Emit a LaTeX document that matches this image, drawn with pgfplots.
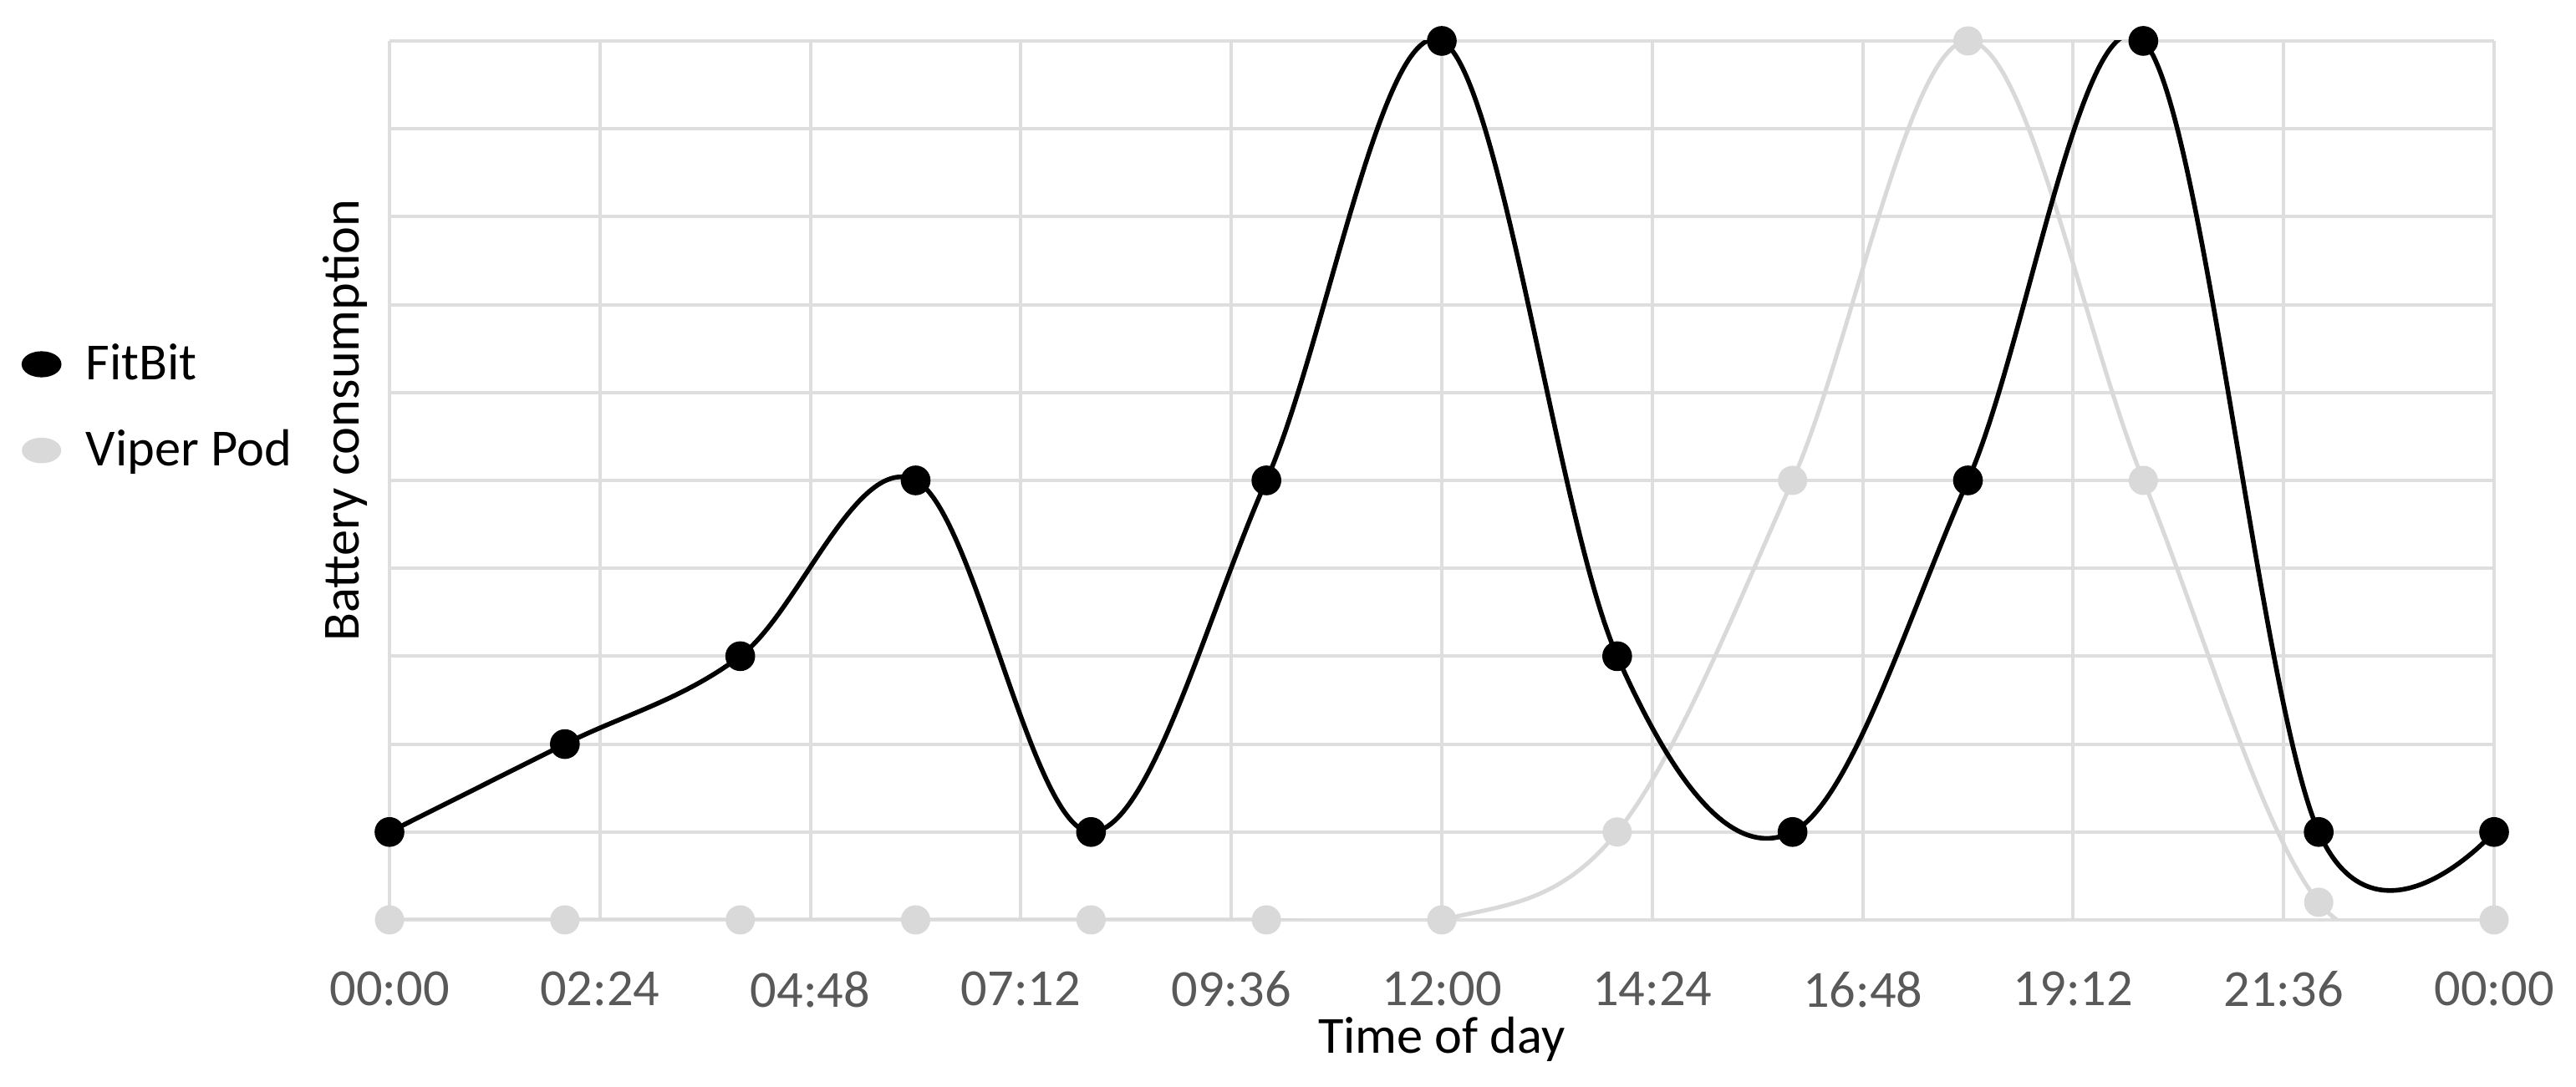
\documentclass[border=0pt]{standalone}
\usepackage{pgfplots}
\pgfplotsset{compat=1.18}
\usepackage{fontspec}
\setmainfont{Carlito}

\definecolor{fitcol}{HTML}{000000}
\definecolor{vipcol}{HTML}{D9D9D9}
\definecolor{gridcol}{HTML}{DEDEDE}
\definecolor{tickcol}{HTML}{595959}
\newcommand{\chartfont}{\fontsize{15.6}{18}\selectfont}

\begin{document}
\begin{tikzpicture}
\begin{axis}[
  scale only axis,
  width=629.5pt, height=263pt,
  xmin=0, xmax=24, ymin=0, ymax=10,
  xtick={0,2.4,4.8,7.2,9.6,12,14.4,16.8,19.2,21.6,24},
  xticklabels={00:00,02:24,04:48,07:12,09:36,12:00,14:24,16:48,19:12,21:36,00:00},
  ytick={0,1,...,10}, yticklabels={},
  xmajorgrids, ymajorgrids,
  major grid style={gridcol, line width=1pt},
  axis line style={draw=none},
  tick style={draw=none},
  xticklabel style={font=\chartfont, tickcol, anchor=center, yshift=-20.75pt},
  xlabel={Time of day}, ylabel={Battery consumption},
  label style={font=\chartfont},
  xlabel style={at={(axis description cs:0.5,-0.136)}, anchor=center},
  ylabel style={at={(axis description cs:-0.0211,0.5684)}, anchor=center},
  clip mode=individual,
  reverse legend,
  legend cell align=left,
  legend style={draw=none, fill=none, inner sep=0pt, font=\chartfont,
    at={(axis description cs:-0.1751,0.583)}, anchor=west, row sep=9.5pt},
]
% Viper Pod first so that FitBit lies on top
\addplot[vipcol, line width=1.25pt, smooth, tension=0.6,
  mark=*, mark size=3.75pt, mark options={solid},
  legend image code/.code={\path[draw=none, fill=none] (0pt,0pt) rectangle (16.5pt,0.1pt);
    \fill[vipcol] (5.25pt,0pt) ellipse [x radius=5.25pt, y radius=3.2pt];}]
coordinates {
  (0,0) (2,0) (4,0) (6,0) (8,0) (10,0) (12,0)
  (14,1) (16,5) (18,10) (20,5) (22,0.2) (24,0)
};
\addlegendentry{Viper Pod}
\addplot[fitcol, line width=1.4pt, smooth, tension=0.6,
  mark=*, mark size=3.75pt, mark options={solid},
  legend image code/.code={\path[draw=none, fill=none] (0pt,0pt) rectangle (16.5pt,0.1pt);
    \fill[fitcol] (5.25pt,0pt) ellipse [x radius=5.25pt, y radius=3.2pt];}]
coordinates {
  (0,1) (2,2) (4,3) (6,5) (8,1) (10,5) (12,10)
  (14,3) (16,1) (18,5) (20,10) (22,1) (24,1)
};
\addlegendentry{FitBit}
\end{axis}
\pgfresetboundingbox
\path[use as bounding box] (-116.5pt,-50pt) rectangle (654pt,275.25pt);
\end{tikzpicture}
\end{document}
